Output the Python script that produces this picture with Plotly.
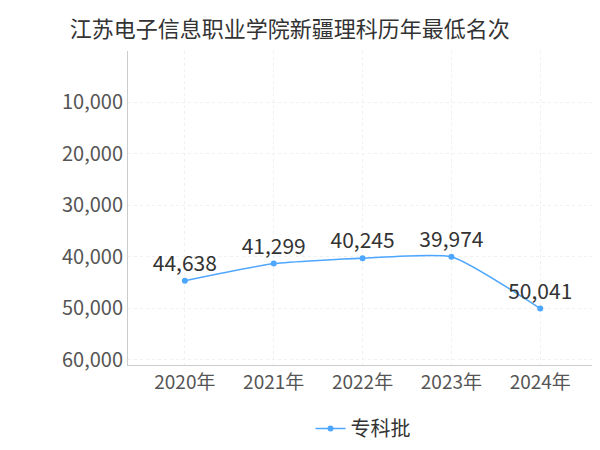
import plotly.graph_objects as go

years = ["2020年", "2021年", "2022年", "2023年", "2024年"]
ranks = [44638, 41299, 40245, 39974, 50041]
labels = ["44,638", "41,299", "40,245", "39,974", "50,041"]

fig = go.Figure(go.Scatter(
    x=years, y=ranks, mode="lines+markers+text", name="专科批",
    text=labels, textposition="top center",
    textfont=dict(size=21, color="#333"),
    line=dict(color="#4da6ff", width=1.5, shape="spline", smoothing=0.5),
    marker=dict(size=6, color="#4da6ff"),
))
fig.update_layout(
    width=600, height=450,
    font=dict(family="Noto Sans CJK SC, sans-serif", color="#555"),
    title=dict(text="江苏电子信息职业学院新疆理科历年最低名次", x=0.103, y=0.97,
               xanchor="left", font=dict(size=22, color="#333")),
    margin=dict(l=120, r=10, t=43, b=78),
    plot_bgcolor="white", paper_bgcolor="white",
    showlegend=True,
    legend=dict(orientation="h", x=0.5, xanchor="center", y=-0.14, yanchor="top",
                font=dict(size=20, color="#333")),
    xaxis=dict(range=[-0.64, 4.65], showgrid=True, gridcolor="#f0f0f0",
               griddash="dot", showline=True, linecolor="#ccc",
               tickfont=dict(size=19), ticks=""),
    yaxis=dict(range=[61000, 0], tickvals=[10000, 20000, 30000, 40000, 50000, 60000],
               tickformat=",", showgrid=True, gridcolor="#f0f0f0", griddash="dot",
               showline=True, linecolor="#ccc", tickfont=dict(size=20), zeroline=False,
               ticks="", ticklen=4),
)
fig.write_html("out.html")
